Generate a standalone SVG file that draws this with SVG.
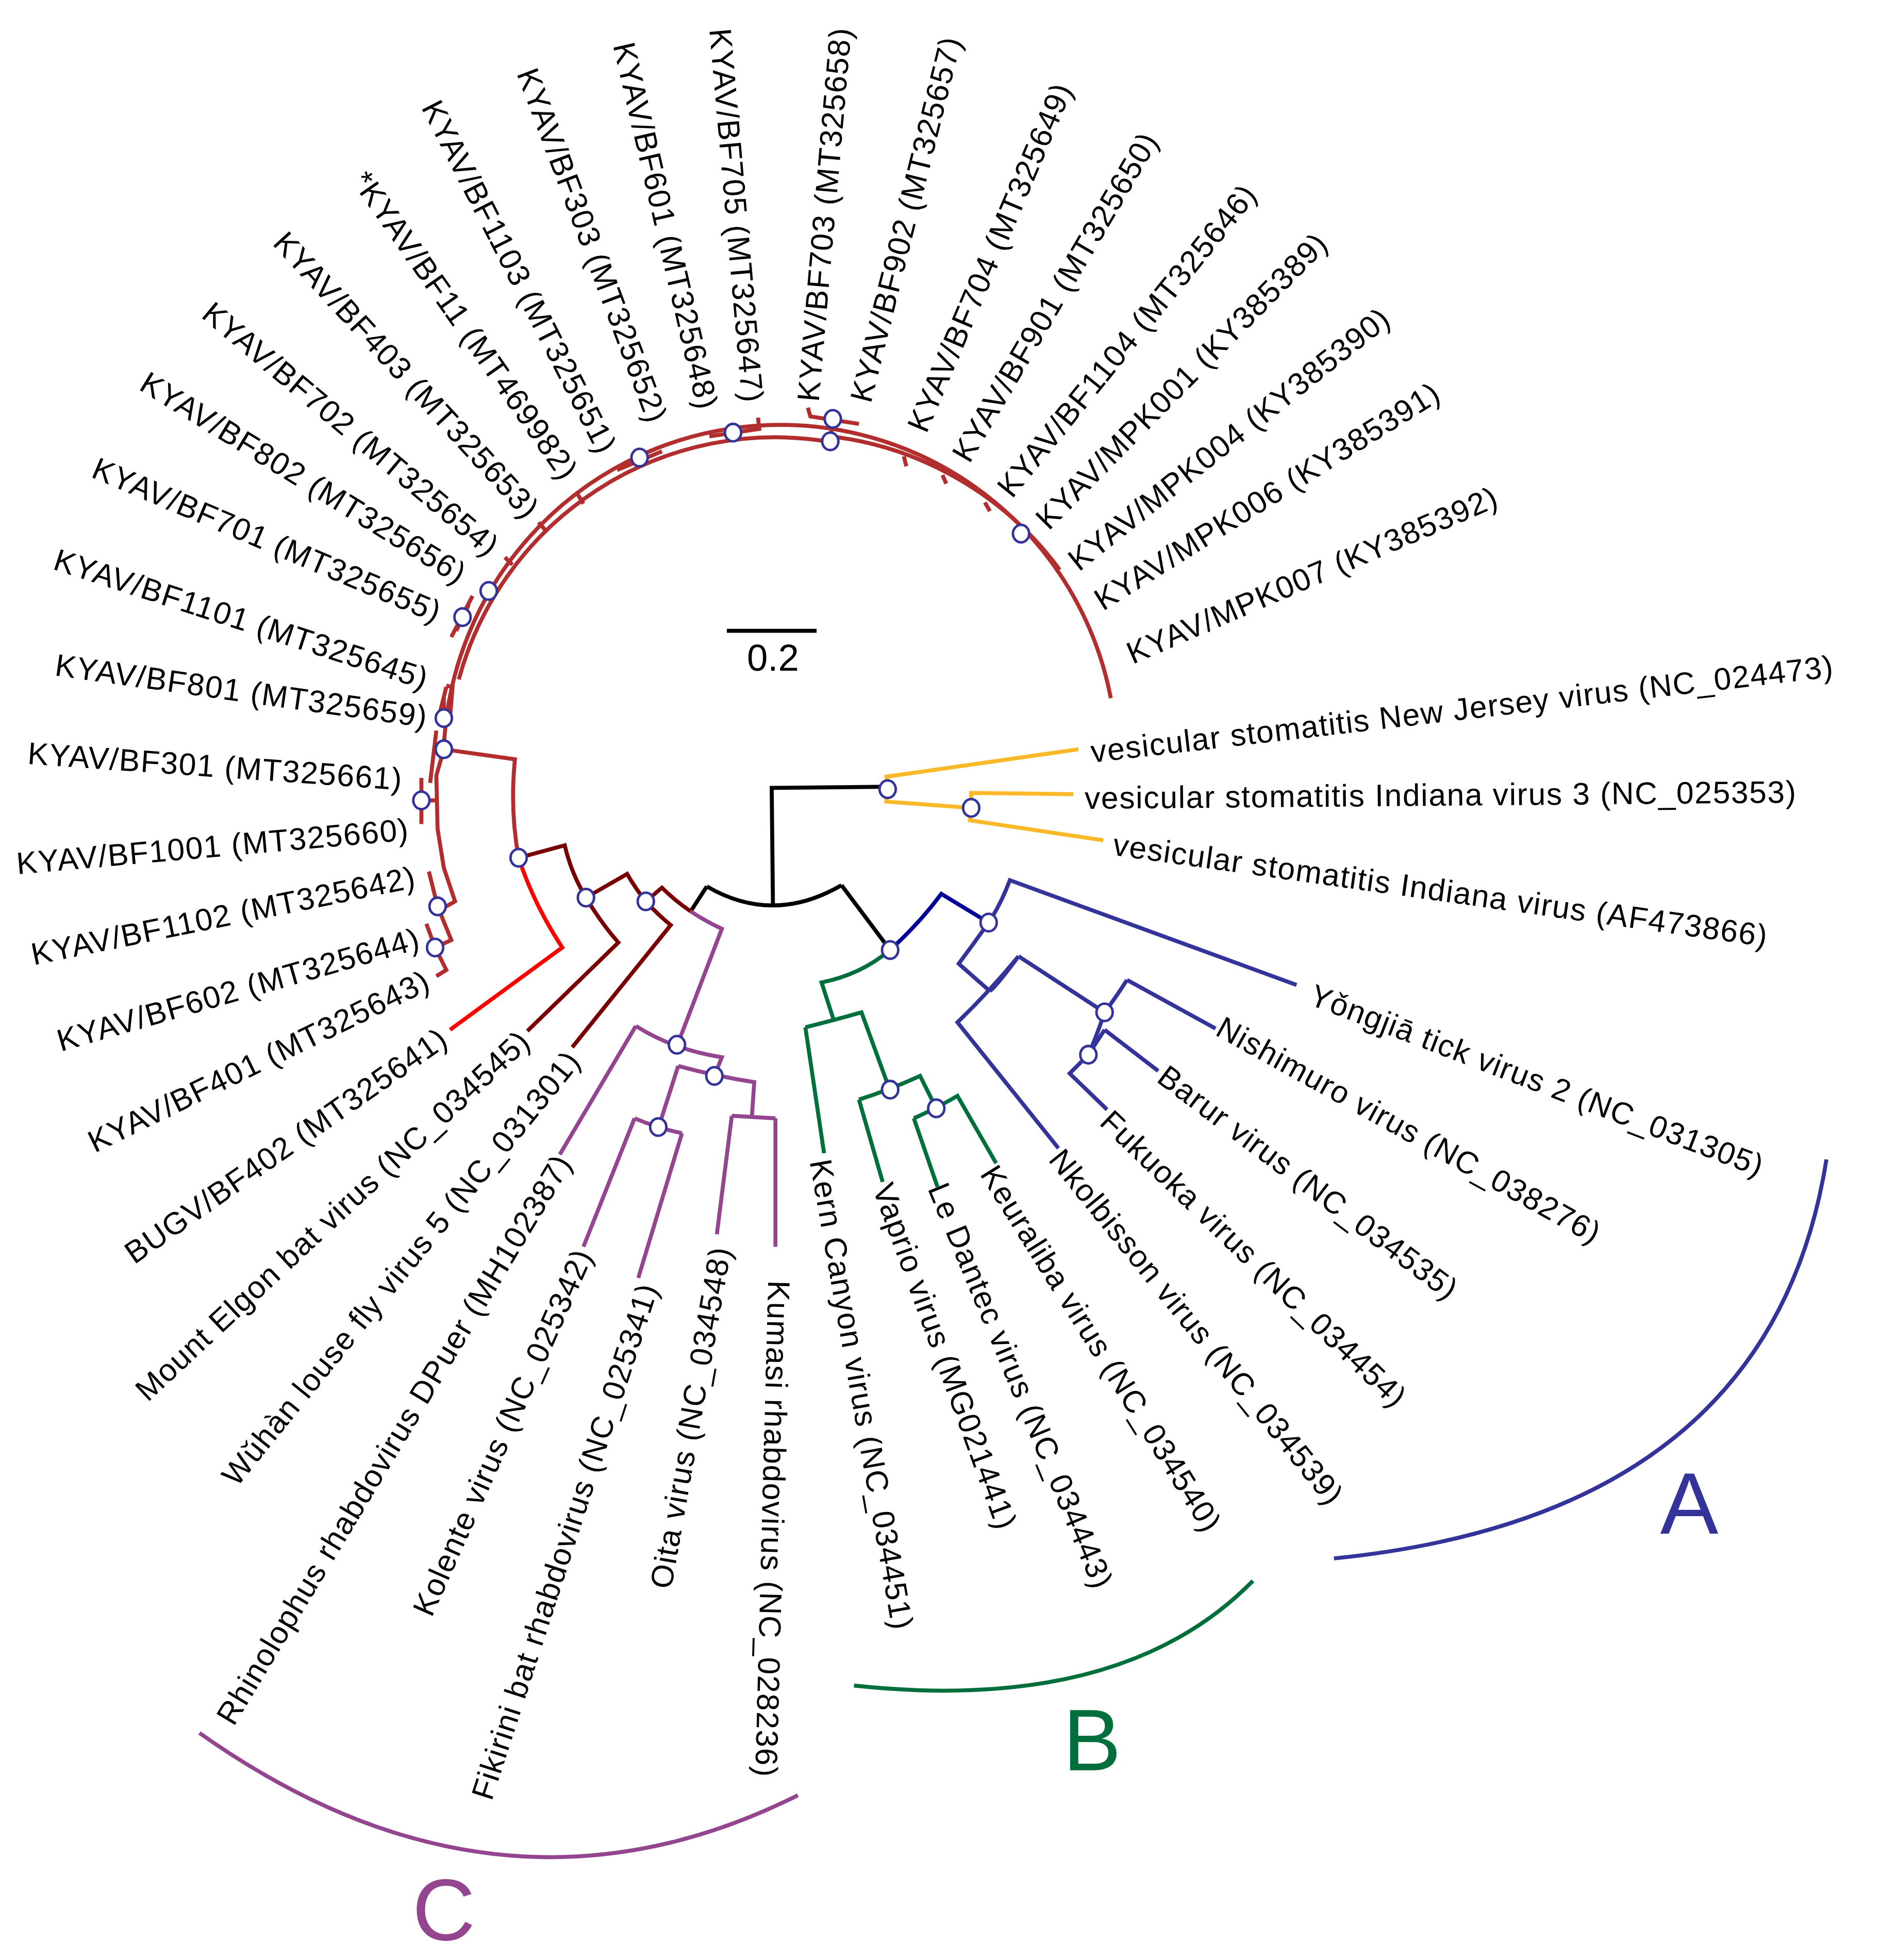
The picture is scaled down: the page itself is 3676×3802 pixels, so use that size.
<svg xmlns="http://www.w3.org/2000/svg" width="3676" height="3802" viewBox="0 0 3676 3802">
<style>
.b{fill:none;stroke-width:3.2;stroke-linejoin:miter;stroke-linecap:butt}
.k{stroke:#000}.r{stroke:#B22E2E}.rr{stroke:#FF0000}.m{stroke:#780000}.p{stroke:#93468F}.y{stroke:#FBB829}.d{stroke:#000099}.u{stroke:#333399}.g{stroke:#006F3C}
.n{fill:#fff;stroke:#333399;stroke-width:2}
text{font-family:"Liberation Sans",Arial,sans-serif;font-size:25px;letter-spacing:0.7px;fill:#000}
.e{text-anchor:end}
</style>
<rect width="3676" height="3802" fill="#fff"/>
<g transform="scale(2.4184)">
<g id="connectors">
<path class="b k" d="M567,711 Q620,742 675,710 M620,726 L619,632 L712,631 M567,711 L554,731 M675,710 L714,762"/>
<path class="b y" d="M712,631 L711,623 L865,601 M712,631 L711,643 L779,648 L779,636 L861,637 M779,648 L778,658 L885,674"/>
<path class="b d" d="M714,762 Q738,740 755,717 L793,740"/>
<path class="b u" d="M793,740 Q803,725 810,706 L1040,790 M793,740 Q781,757 769,773 L794,795 M817,767 Q794,795 768,820 L849,921 M817,767 Q800,790 794,795 M817,767 L886,812 M904,786 Q895,800 886,812 Q880,830 873,846 L858,861 L888,890 M904,786 L975,825 M886,826 L929,859 M886,826 L873,846"/>
<path class="b g" d="M714,762 Q690,782 659,788 L669,819 M646,824 Q670,818 691,812 L714,875 M646,824 L661,925 M689,882 Q714,874 738,863 L751,889 M689,882 L708,948 M733,897 Q751,889 768,879 L799,933 M733,897 L752,952"/>
<path class="b r" d="M356,601 L413,609 Q409,650 416,688"/>
<path class="b rr" d="M416,688 Q428,725 451,760 L361,826"/>
<path class="b m" d="M416,688 L453,678 Q458,700 470,720 Q482,740 496,756 L423,827 M470,720 L503,701 Q510,713 518,723 Q527,733 538,742 L459,840 M518,723 L531,712 Q541,722 554,731"/>
<path class="b p" d="M554,731 Q566,739 579,745 L543,839 M510,823 Q526,833 543,839 Q560,845 579,848 L573,863 M510,823 L449,926 M544,855 Q573,863 605,868 L603,897 M587,895 L622,897 M587,895 L575,990 M622,897 L622,1000 M544,855 L528,905 M509,897 Q528,905 547,909 M509,897 L468,1000 M547,909 L512,1025"/>
<path class="b r" d="M356,601 A270,270 0 0 1 891,560"/>
<path class="b r" d="M368,545 A263,263 0 0 1 663,354"/>
<path class="b r" stroke-width="5" d="M666,350 A267,267 0 0 1 850,457"/>
<path class="b r" d="M356,601 L350,622 L351,665 L356,696 L365,723 L358,727 L351,727 M344,699 L351,727 L362,754 L349,760 M342,741 L349,760 L358,778 L350,783 M338,624 L338,661 M338,642 L351,642 M356,576 L356,560 M350,586 L345,628 M358,550 L363,551 L361,575 M432,419 L439,427 M405,447 L411,453 M463,396 L468,404 M495,377 L531,362 M569,350 L609,344 L608,335 M648,327 L650,334 L689,340 M668,336 L666,354 M725,366 L727,374 M756,381 L759,388 M790,403 L794,410 M379,478 L362,511 M376,485 L371,495 L366,506 M358,551 L352,575"/>
<path class="b u" d="M1465,930 Q1420,1215 1070,1250"/>
<path class="b g" d="M1005,1268 Q900,1375 685,1352"/>
<path class="b p" d="M160,1390 Q400,1560 640,1440"/>
<path class="b k" stroke-width="3.5" d="M583,506 L655,506"/>
</g>
<g id="nodes">
<ellipse class="n" cx="712" cy="633" rx="6.5" ry="7"/>
<ellipse class="n" cx="779" cy="648" rx="6.5" ry="7"/>
<ellipse class="n" cx="714" cy="762" rx="6.5" ry="7"/>
<ellipse class="n" cx="793" cy="740" rx="6.5" ry="7"/>
<ellipse class="n" cx="886" cy="812" rx="6.5" ry="7"/>
<ellipse class="n" cx="873" cy="846" rx="6.5" ry="7"/>
<ellipse class="n" cx="714" cy="874" rx="6.5" ry="7"/>
<ellipse class="n" cx="751" cy="889" rx="6.5" ry="7"/>
<ellipse class="n" cx="543" cy="838" rx="6.5" ry="7"/>
<ellipse class="n" cx="573" cy="863" rx="6.5" ry="7"/>
<ellipse class="n" cx="528" cy="904" rx="6.5" ry="7"/>
<ellipse class="n" cx="416" cy="688" rx="6.5" ry="7"/>
<ellipse class="n" cx="470" cy="720" rx="6.5" ry="7"/>
<ellipse class="n" cx="518" cy="723" rx="6.5" ry="7"/>
<ellipse class="n" cx="356" cy="601" rx="6.5" ry="7"/>
<ellipse class="n" cx="356" cy="576" rx="6.5" ry="7"/>
<ellipse class="n" cx="338" cy="642" rx="6.5" ry="7"/>
<ellipse class="n" cx="351" cy="727" rx="6.5" ry="7"/>
<ellipse class="n" cx="349" cy="760" rx="6.5" ry="7"/>
<ellipse class="n" cx="371" cy="495" rx="6.5" ry="7"/>
<ellipse class="n" cx="392" cy="474" rx="6.5" ry="7"/>
<ellipse class="n" cx="513" cy="367" rx="6.5" ry="7"/>
<ellipse class="n" cx="588" cy="347" rx="6.5" ry="7"/>
<ellipse class="n" cx="668" cy="336" rx="6.5" ry="7"/>
<ellipse class="n" cx="666" cy="354" rx="6.5" ry="7"/>
<ellipse class="n" cx="819" cy="428" rx="6.5" ry="7"/>
</g>
<g id="labels">
<text class="e" dy="0.35em" transform="translate(343,785) rotate(-26)">KYAV/BF401 (MT325643)</text>
<text class="e" dy="0.35em" transform="translate(336,752) rotate(-16)">KYAV/BF602 (MT325644)</text>
<text class="e" dy="0.35em" transform="translate(333,703) rotate(-11.5)">KYAV/BF1102 (MT325642)</text>
<text class="e" dy="0.35em" transform="translate(328,665) rotate(-5)">KYAV/BF1001 (MT325660)</text>
<text class="e" dy="0.35em" transform="translate(323,625) rotate(4)">KYAV/BF301 (MT325661)</text>
<text class="e" dy="0.35em" transform="translate(343,575) rotate(8)">KYAV/BF801 (MT325659)</text>
<text class="e" dy="0.35em" transform="translate(343,545) rotate(18)">KYAV/BF1101 (MT325645)</text>
<text class="e" dy="0.35em" transform="translate(353,492) rotate(23)">KYAV/BF701 (MT325655)</text>
<text class="e" dy="0.35em" transform="translate(372,462) rotate(31.5)">KYAV/BF802 (MT325656)</text>
<text class="e" dy="0.35em" transform="translate(397,441) rotate(40)">KYAV/BF702 (MT325654)</text>
<text class="e" dy="0.35em" transform="translate(428,412) rotate(47.5)">KYAV/BF403 (MT325653)</text>
<text class="e" dy="0.35em" transform="translate(458,382) rotate(55)">*KYAV/BF11 (MT469982)</text>
<text class="e" dy="0.35em" transform="translate(488,362) rotate(63)">KYAV/BF1103 (MT325651)</text>
<text class="e" dy="0.35em" transform="translate(528,338) rotate(69.5)">KYAV/BF303 (MT325652)</text>
<text class="e" dy="0.35em" transform="translate(568,328) rotate(77)">KYAV/BF601 (MT325648)</text>
<text class="e" dy="0.35em" transform="translate(604,323) rotate(85)">KYAV/BF705 (MT325647)</text>
<text dy="0.35em" transform="translate(648,322) rotate(-85)">KYAV/BF703 (MT325658)</text>
<text dy="0.35em" transform="translate(690,322) rotate(-76)">KYAV/BF902 (MT325657)</text>
<text dy="0.35em" transform="translate(735,345) rotate(-67)">KYAV/BF704 (MT325649)</text>
<text dy="0.35em" transform="translate(770,368) rotate(-59.6)">KYAV/BF901 (MT325650)</text>
<text dy="0.35em" transform="translate(805,395) rotate(-51)">KYAV/BF1104 (MT325646)</text>
<text dy="0.35em" transform="translate(835,420) rotate(-45.5)">KYAV/MPK001 (KY385389)</text>
<text dy="0.35em" transform="translate(860,452) rotate(-38.5)">KYAV/MPK004 (KY385390)</text>
<text dy="0.35em" transform="translate(880,483) rotate(-32)">KYAV/MPK006 (KY385391)</text>
<text dy="0.35em" transform="translate(905,525) rotate(-23.4)">KYAV/MPK007 (KY385392)</text>
<text dy="0.35em" transform="translate(875,603) rotate(-6.6)">vesicular stomatitis New Jersey virus (NC_024473)</text>
<text dy="0.35em" transform="translate(870,640) rotate(-0.5)">vesicular stomatitis Indiana virus 3 (NC_025353)</text>
<text dy="0.35em" transform="translate(893,677) rotate(8)">vesicular stomatitis Indiana virus (AF473866)</text>
<text dy="0.35em" transform="translate(1052,797) rotate(21)">Yǒngjiā tick virus 2 (NC_031305)</text>
<text dy="0.35em" transform="translate(978,822) rotate(29)">Nishimuro virus (NC_038276)</text>
<text dy="0.35em" transform="translate(932,860) rotate(37)">Barur virus (NC_034535)</text>
<text dy="0.35em" transform="translate(887,895) rotate(44)">Fukuoka virus (NC_034454)</text>
<text dy="0.35em" transform="translate(847,925) rotate(51)">Nkolbisson virus (NC_034539)</text>
<text dy="0.35em" transform="translate(793,937) rotate(58)">Keuraliba virus (NC_034540)</text>
<text dy="0.35em" transform="translate(752,950) rotate(67.5)">Le Dantec virus (NC_034443)</text>
<text dy="0.35em" transform="translate(708,950) rotate(70)">Vaprio virus (MG021441)</text>
<text dy="0.35em" transform="translate(658,930) rotate(80)">Kern Canyon virus (NC_034451)</text>
<text dy="0.35em" transform="translate(625,1027) rotate(91.5)">Kumasi rhabdovirus (NC_028236)</text>
<text class="e" dy="0.35em" transform="translate(578,1000) rotate(-80)">Oita virus (NC_034548)</text>
<text class="e" dy="0.35em" transform="translate(520,1030) rotate(-72)">Fikirini bat rhabdovirus (NC_025341)</text>
<text class="e" dy="0.35em" transform="translate(468,1003) rotate(-66)">Kolente virus (NC_025342)</text>
<text class="e" dy="0.35em" transform="translate(452,928) rotate(-59)">Rhinolophus rhabdovirus DPuer (MH102387)</text>
<text class="e" dy="0.35em" transform="translate(460,846) rotate(-51)">Wǔhàn louse fly virus 5 (NC_031301)</text>
<text class="e" dy="0.35em" transform="translate(421,831) rotate(-43)">Mount Elgon bat virus (NC_034545)</text>
<text class="e" dy="0.35em" transform="translate(356,830) rotate(-35)">BUGV/BF402 (MT325641)</text>
<text x="620" y="538" text-anchor="middle" style="font-size:30px;letter-spacing:0">0.2</text>
<text x="1355" y="1230" text-anchor="middle" style="font-size:70px;letter-spacing:0;fill:#333399">A</text>
<text x="876" y="1420" text-anchor="middle" style="font-size:70px;letter-spacing:0;fill:#006F3C">B</text>
<text x="356" y="1556" text-anchor="middle" style="font-size:70px;letter-spacing:0;fill:#93468F">C</text>
</g>
</g>
</svg>
